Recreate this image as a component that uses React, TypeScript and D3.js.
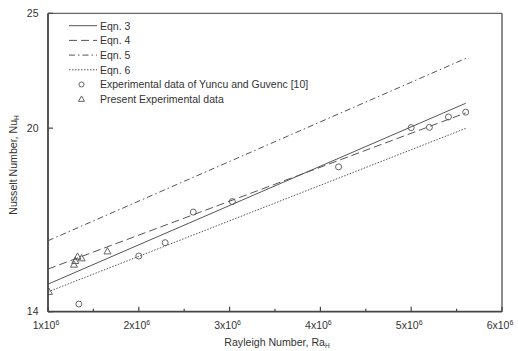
import React from "react";
import * as d3 from "d3";

const W = 518;
const H = 351;

// Equation lines: [Ra start, Ra end], [Nu start, Nu end]
const lineRa = [1e6, 5.6e6];
const eqn3 = [14.77, 20.99];
const eqn4 = [15.21, 20.6];
const eqn5 = [16.07, 22.9];
const eqn6 = [14.55, 19.99];

// Experimental data of Yuncu and Guvenc [10]
const yuncuRa = [1.34e6, 2.0e6, 2.29e6, 2.6e6, 3.03e6, 4.2e6, 5.0e6, 5.2e6, 5.41e6, 5.6e6];
const yuncuNu = [14.21, 15.6, 16.01, 16.99, 17.34, 18.55, 20.02, 20.03, 20.44, 20.63];

// Present experimental data
const presentRa = [1.01e6, 1.286e6, 1.3e6, 1.325e6, 1.37e6, 1.655e6];
const presentNu = [14.55, 15.34, 15.45, 15.58, 15.53, 15.74];

const xTicks = [1e6, 2e6, 3e6, 4e6, 5e6, 6e6];
const xTickLabels = ["1", "2", "3", "4", "5", "6"];
const xMinorTicks = [1.5e6, 2.5e6, 3.5e6, 4.5e6, 5.5e6];
const yTicks = [14, 20, 25];

const legendLabels = [
  "Eqn. 3",
  "Eqn. 4",
  "Eqn. 5",
  "Eqn. 6",
  "Experimental data of Yuncu and Guvenc [10]",
  "Present Experimental data",
];

const left = 48;
const right = 502;
const top = 13.3;
const bottom = 311.7;

const x = d3.scaleLinear().domain([1e6, 6e6]).range([left, right]);
const y = d3.scaleLog().domain([14, 25]).range([bottom, top]);

const stroke = "#555";
const textColor = "#333";
const font = "Liberation Sans, Arial, sans-serif";

const dashes = ["", "8,4", "6,3,1.5,3", "1.5,1.5"];

function tri(cx: number, cy: number, s: number) {
  const h = s * 0.9;
  return `M${cx},${cy - h * 0.6} L${cx + s / 2},${cy + h * 0.4} L${cx - s / 2},${cy + h * 0.4} Z`;
}

export default function App() {
  const lineGen = d3
    .line<[number, number]>()
    .x((d) => x(d[0]))
    .y((d) => y(d[1]));
  const eqns = [eqn3, eqn4, eqn5, eqn6];

  const legendY0 = 25.7;
  const legendStep = 14.7;

  return (
    <svg
      width={W}
      height={H}
      style={{ position: "absolute", left: 0, top: 0, background: "#fff" }}
      fontFamily={font}
    >
      <rect x={0} y={0} width={W} height={H} fill="#fff" />
      <defs>
        <clipPath id="plotclip">
          <rect x={left} y={top} width={right - left} height={bottom - top} />
        </clipPath>
      </defs>

      {/* equation lines */}
      {eqns.map((e, i) => (
        <path
          key={i}
          d={lineGen([
            [lineRa[0], e[0]],
            [lineRa[1], e[1]],
          ]) as string}
          fill="none"
          stroke={stroke}
          strokeWidth={1}
          strokeDasharray={dashes[i]}
        />
      ))}

      {/* markers */}
      <g clipPath="url(#plotclip)">
        {yuncuRa.map((r, i) => (
          <circle
            key={"c" + i}
            cx={x(r)}
            cy={y(yuncuNu[i])}
            r={3}
            fill="none"
            stroke={stroke}
            strokeWidth={0.9}
          />
        ))}
        {presentRa.map((r, i) => (
          <path
            key={"t" + i}
            d={tri(x(r), y(presentNu[i]), 7)}
            fill="none"
            stroke={stroke}
            strokeWidth={0.9}
          />
        ))}
      </g>

      {/* frame */}
      <line x1={left} x2={right} y1={top} y2={top} stroke="#666" strokeWidth={1.3} />
      <line x1={right} x2={right} y1={top} y2={bottom} stroke="#666" strokeWidth={1.5} />
      <line x1={left} x2={left} y1={top} y2={bottom} stroke="#444" strokeWidth={1.8} />
      <line x1={left} x2={right} y1={bottom} y2={bottom} stroke="#444" strokeWidth={1.8} />

      {/* x ticks */}
      {xTicks.map((t, i) => (
        <g key={"xt" + i}>
          <line x1={x(t)} x2={x(t)} y1={bottom} y2={bottom - 5} stroke="#444" strokeWidth={1.2} />
          <text
            x={x(t) - 2}
            y={329}
            fontSize={10.5}
            fill={textColor}
            textAnchor="middle"
          >
            {xTickLabels[i]}x10
            <tspan fontSize={7} dy={-4}>
              6
            </tspan>
          </text>
        </g>
      ))}
      {xMinorTicks.map((t, i) => (
        <line key={"xm" + i} x1={x(t)} x2={x(t)} y1={bottom} y2={bottom - 3} stroke="#444" strokeWidth={1.2} />
      ))}

      {/* y ticks */}
      {yTicks.map((t, i) => (
        <g key={"yt" + i}>
          <line x1={left} x2={left + 5} y1={y(t)} y2={y(t)} stroke="#444" strokeWidth={1.2} />
          <text
            x={38.5}
            y={y(t) + 3.7}
            fontSize={10.5}
            fill={textColor}
            textAnchor="end"
          >
            {t}
          </text>
        </g>
      ))}

      {/* axis titles */}
      <text x={277} y={346} fontSize={10.6} fill={textColor} textAnchor="middle">
        Rayleigh Number, Ra
        <tspan fontSize={6.5} dy={2}>
          H
        </tspan>
      </text>
      <text
        transform={`translate(17,165) rotate(-90)`}
        fontSize={10.6}
        fill={textColor}
        textAnchor="middle"
      >
        Nusselt Number, Nu
        <tspan fontSize={6.5} dy={2}>
          H
        </tspan>
      </text>

      {/* legend */}
      {legendLabels.map((lab, i) => {
        const ly = legendY0 + i * legendStep;
        return (
          <g key={"lg" + i}>
            {i < 4 && (
              <line
                x1={69}
                x2={97}
                y1={ly}
                y2={ly}
                stroke={stroke}
                strokeWidth={1}
                strokeDasharray={dashes[i]}
              />
            )}
            {i === 4 && <circle cx={81.5} cy={ly} r={2.5} fill="none" stroke={stroke} strokeWidth={0.9} />}
            {i === 5 && <path d={tri(81.5, ly, 6)} fill="none" stroke={stroke} strokeWidth={0.9} />}
            <text x={100} y={ly + 3.8} fontSize={10.5} fill={textColor}>
              {lab}
            </text>
          </g>
        );
      })}
    </svg>
  );
}
